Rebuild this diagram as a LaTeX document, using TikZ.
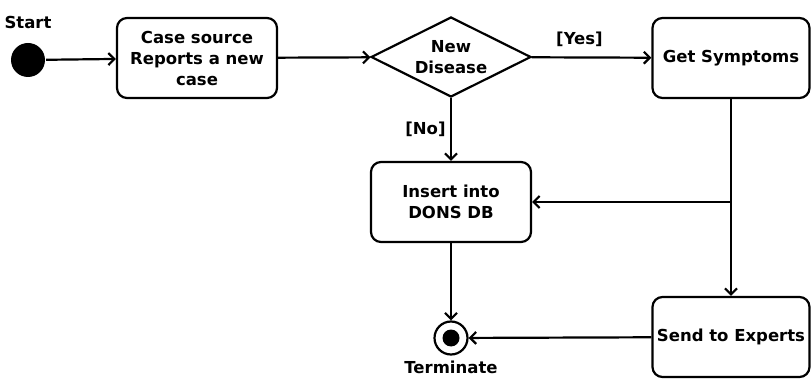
\documentclass[tikz,border=0pt]{standalone}
\usepackage{fontspec}
\setmainfont{DejaVu Sans}
\usetikzlibrary{shapes.geometric,arrows.meta}
\begin{document}
\begin{tikzpicture}[x=1pt,y=-1pt,line width=2.2pt,
    every node/.style={font=\bfseries\fontsize{16.5}{21}\selectfont},
    activity/.style={draw,rounded corners=10pt,align=center,
        minimum width=160pt,minimum height=80pt,inner sep=0pt},
    decision/.style={draw,diamond,aspect=2,align=center,
        minimum width=160pt,minimum height=80pt,inner sep=0pt},
    flow/.style={-{Straight Barb[length=6pt,width=12pt]}}]
\useasboundingbox (0,0) rectangle (811,379);
% start and end
\node[circle,fill,minimum size=34pt,inner sep=0pt,label={[label distance=9pt]above:Start}] (start) at (28,60) {};
\node[circle,draw,minimum size=33pt,inner sep=0pt,label={[label distance=1pt]below:Terminate}] (term) at (451,338) {};
\fill (term) circle (8.5);
% activities
\node[activity] (report) at (197,58) {Case source\\Reports a new\\case};
\node[decision] (newdis) at (451,57) {New\\Disease};
\node[activity,minimum width=157pt] (symp) at (731,58) {Get Symptoms};
\node[activity] (insert) at (451,202) {Insert into\\DONS DB};
\node[activity,minimum width=157pt] (send) at (731,337) {Send to Experts};
\coordinate (fork) at (symp.south |- insert.east);
% flows
\draw[flow] (start) -- (report);
\draw[flow] (report) -- (newdis);
\draw[flow] (newdis) -- node[above=6pt,pos=0.4] {[Yes]} (symp);
\draw[flow] (newdis) -- node[left=1pt] {[No]} (insert);
\draw[flow] (symp) -- (send);
\draw[flow] (fork) -- (insert);
\draw[flow] (insert) -- (term);
\draw[flow] (send) -- (term);
\end{tikzpicture}
\end{document}
